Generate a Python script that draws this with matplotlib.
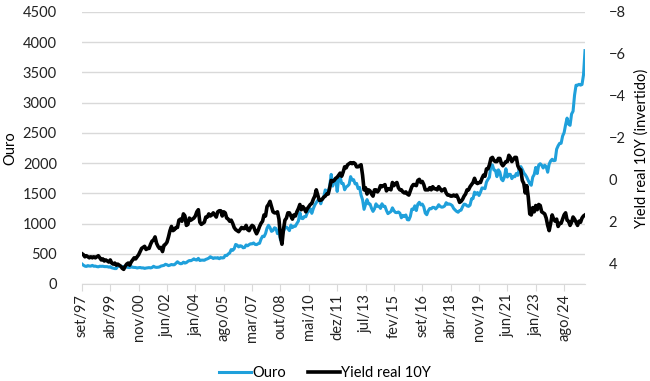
import numpy as np
import pandas as pd
import matplotlib
matplotlib.use("Agg")
import matplotlib.pyplot as plt

# monthly values, set/1997 .. out/2025
gold = [
    332, 311, 296, 290,                                                  # 1997
    304, 297, 296, 308, 293, 296, 288, 284, 294, 292, 294, 288,          # 1998
    287, 287, 279, 286, 268, 261, 255, 255, 299, 300, 292, 290,          # 1999
    284, 293, 277, 274, 272, 288, 277, 274, 273, 265, 270, 273,          # 2000
    266, 267, 258, 264, 268, 271, 266, 273, 293, 279, 275, 277,          # 2001
    282, 297, 302, 308, 326, 318, 304, 312, 323, 317, 319, 343,          # 2002
    368, 348, 335, 338, 361, 346, 354, 375, 388, 385, 398, 416,          # 2003
    400, 396, 424, 388, 394, 395, 392, 407, 416, 428, 451, 438,          # 2004
    422, 435, 428, 436, 418, 437, 430, 434, 473, 470, 496, 513,          # 2005
    569, 556, 583, 654, 643, 613, 633, 626, 599, 604, 646, 632,          # 2006
    651, 666, 663, 679, 655, 651, 666, 673, 743, 790, 783, 834,          # 2007
    923, 971, 933, 871, 885, 930, 918, 833, 884, 730, 814, 869,          # 2008
    927, 942, 916, 883, 975, 934, 955, 955, 1001, 1040, 1180, 1087,      # 2009
    1081, 1116, 1113, 1180, 1207, 1244, 1169, 1246, 1307, 1346, 1386, 1405,  # 2010
    1327, 1409, 1439, 1556, 1536, 1505, 1628, 1813, 1620, 1722, 1746, 1531,  # 2011
    1744, 1770, 1662, 1664, 1559, 1604, 1622, 1648, 1776, 1719, 1726, 1657,  # 2012
    1664, 1578, 1598, 1469, 1394, 1235, 1313, 1396, 1326, 1323, 1253, 1201,  # 2013
    1244, 1326, 1284, 1288, 1250, 1327, 1285, 1285, 1216, 1164, 1182, 1199,  # 2014
    1260, 1214, 1183, 1180, 1191, 1172, 1095, 1135, 1115, 1142, 1064, 1060,  # 2015
    1118, 1238, 1232, 1293, 1215, 1320, 1351, 1309, 1322, 1277, 1173, 1146,  # 2016
    1211, 1248, 1245, 1268, 1266, 1242, 1269, 1311, 1283, 1270, 1275, 1291,  # 2017
    1345, 1318, 1325, 1315, 1298, 1250, 1224, 1201, 1187, 1215, 1222, 1279,  # 2018
    1321, 1316, 1292, 1284, 1305, 1409, 1413, 1520, 1485, 1513, 1464, 1517,  # 2019
    1589, 1585, 1577, 1687, 1730, 1768, 1975, 1968, 1886, 1879, 1776, 1888,  # 2020
    1848, 1734, 1708, 1769, 1907, 1770, 1814, 1814, 1743, 1783, 1774, 1829,  # 2021
    1797, 1909, 1942, 1897, 1838, 1807, 1766, 1711, 1661, 1633, 1768, 1812,  # 2022
    1928, 1827, 1969, 1990, 1963, 1919, 1965, 1940, 1849, 1984, 2036, 2063,  # 2023
    2040, 2044, 2230, 2286, 2327, 2327, 2447, 2503, 2634, 2744, 2643, 2625,  # 2024
    2812, 2858, 3124, 3288, 3289, 3303, 3290, 3300, 3460, 3860,              # 2025
]

real_yield = [
    3.55, 3.6, 3.7, 3.65,                                                # 1997
    3.7, 3.75, 3.7, 3.75, 3.7, 3.75, 3.7, 3.65, 3.75, 3.85, 3.8, 3.9,    # 1998
    3.85, 3.9, 3.95, 3.85, 4.0, 4.05, 4.0, 4.1, 4.05, 4.1, 4.15, 4.25,   # 1999
    4.3, 4.15, 4.05, 4.0, 4.1, 3.95, 3.85, 3.75, 3.8, 3.7, 3.6, 3.45,    # 2000
    3.3, 3.25, 3.2, 3.35, 3.3, 3.3, 3.1, 2.95, 2.9, 2.75, 3.05, 3.2,     # 2001
    3.3, 3.25, 3.45, 3.15, 3.1, 3.0, 2.75, 2.45, 2.25, 2.45, 2.4, 2.3,   # 2002
    2.3, 1.95, 1.9, 2.0, 1.65, 1.75, 2.2, 2.15, 1.85, 1.95, 1.9, 1.85,   # 2003
    1.75, 1.55, 1.45, 2.05, 2.15, 2.1, 2.05, 1.8, 1.8, 1.65, 1.75, 1.7,  # 2004
    1.6, 1.7, 1.8, 1.55, 1.5, 1.5, 1.75, 1.55, 1.6, 1.85, 1.9, 2.0,      # 2005
    1.95, 2.1, 2.3, 2.4, 2.45, 2.5, 2.4, 2.3, 2.35, 2.35, 2.2, 2.4,      # 2006
    2.45, 2.3, 2.2, 2.25, 2.45, 2.6, 2.45, 2.25, 2.1, 2.0, 1.7, 1.75,    # 2007
    1.3, 1.2, 1.05, 1.3, 1.55, 1.6, 1.6, 1.55, 1.9, 2.75, 3.1, 2.4,      # 2008
    1.95, 1.85, 1.6, 1.6, 1.75, 1.9, 1.7, 1.75, 1.55, 1.4, 1.2, 1.45,    # 2009
    1.3, 1.4, 1.55, 1.4, 1.3, 1.2, 1.15, 0.95, 0.8, 0.5, 0.75, 1.0,      # 2010
    1.0, 0.95, 0.85, 0.8, 0.7, 0.7, 0.4, 0.05, 0.1, 0.05, -0.05, -0.1,   # 2011
    -0.2, -0.3, -0.15, -0.35, -0.6, -0.55, -0.7, -0.75, -0.8, -0.75, -0.8, -0.75,  # 2012
    -0.6, -0.6, -0.65, -0.7, -0.2, 0.5, 0.4, 0.7, 0.5, 0.55, 0.7, 0.8,   # 2013
    0.5, 0.5, 0.6, 0.5, 0.3, 0.35, 0.3, 0.25, 0.55, 0.45, 0.45, 0.5,     # 2014
    0.15, 0.3, 0.2, 0.15, 0.4, 0.5, 0.5, 0.6, 0.65, 0.6, 0.7, 0.75,      # 2015
    0.55, 0.35, 0.25, 0.25, 0.3, 0.05, 0.0, 0.15, 0.1, 0.25, 0.5, 0.5,   # 2016
    0.5, 0.4, 0.5, 0.35, 0.45, 0.45, 0.5, 0.35, 0.45, 0.55, 0.5, 0.45,   # 2017
    0.65, 0.75, 0.75, 0.8, 0.8, 0.75, 0.8, 0.75, 0.9, 1.1, 1.05, 0.95,   # 2018
    0.8, 0.7, 0.5, 0.5, 0.35, 0.25, 0.15, -0.05, 0.15, 0.2, 0.15, 0.15,  # 2019
    -0.05, -0.2, -0.15, -0.5, -0.5, -0.7, -1.0, -1.05, -0.9, -0.85, -0.85, -1.0,  # 2020
    -1.0, -0.75, -0.65, -0.75, -0.85, -0.85, -1.15, -1.05, -0.85, -0.95, -1.05, -1.05,  # 2021
    -0.65, -0.5, -0.45, 0.05, 0.2, 0.65, 0.3, 0.85, 1.65, 1.7, 1.35, 1.55,  # 2022
    1.25, 1.45, 1.2, 1.25, 1.55, 1.6, 1.65, 1.85, 2.2, 2.45, 2.1, 1.7,   # 2023
    1.9, 2.0, 1.9, 2.25, 2.1, 2.1, 1.9, 1.7, 1.6, 1.95, 2.0, 2.2,        # 2024
    2.05, 1.8, 1.9, 2.05, 2.2, 2.0, 2.05, 1.85, 1.75, 1.7,               # 2025
]

tick_labels = ["set/97", "abr/99", "nov/00", "jun/02", "jan/04", "ago/05",
               "mar/07", "out/08", "mai/10", "dez/11", "jul/13", "fev/15",
               "set/16", "abr/18", "nov/19", "jun/21", "jan/23", "ago/24"]

dates = pd.date_range("1997-09-01", periods=len(gold), freq="MS")
x = np.arange(len(dates))

plt.rcParams['font.family'] = ['Lato', 'DejaVu Sans']
plt.rcParams['font.size'] = 10.5

fig = plt.figure(figsize=(6.5, 3.81), dpi=100)
ax = fig.add_axes([0.126, 0.2546, 0.774, 0.714])
ax2 = ax.twinx()

grid_c = "#d9d9d9"
ln1, = ax.plot(x, gold, color="#1fa0db", lw=2.2, label="Ouro")
ln2, = ax2.plot(x, real_yield, color="black", lw=2.6, label="Yield real 10Y")

ax.set_ylim(0, 4500)
ax.set_yticks(np.arange(0, 4501, 500))
ax.yaxis.grid(True, color=grid_c, lw=1)
ax.set_axisbelow(True)
ax2.set_ylim(5, -8)
ax2.set_yticks(np.arange(-8, 5, 2))

ax.set_xlim(0, len(x) - 1)
ax.set_xticks(np.arange(0, len(x), 19)[:len(tick_labels)])
ax.set_xticklabels(tick_labels, rotation=90)

for a in (ax, ax2):
    for s in ("top", "left", "right", "bottom"):
        a.spines[s].set_visible(False)
    a.tick_params(axis="y", length=0, colors="#222222")
ax.spines["bottom"].set_visible(True)
ax.spines["bottom"].set_color(grid_c)
ax.tick_params(axis="x", length=5, color=grid_c, colors="#222222", pad=2)
ax.tick_params(axis="y", pad=18)
ax2.tick_params(axis="y", pad=17)

ax.set_ylabel("Ouro", labelpad=4)
ax2.set_ylabel("Yield real 10Y (invertido)", labelpad=6)

fig.legend(handles=[ln1, ln2], loc="lower center", bbox_to_anchor=(0.5, -0.032),
           ncol=2, frameon=False, handlelength=2.2, handletextpad=0.1,
           columnspacing=1.5)

fig.savefig("out.png", dpi=100)
